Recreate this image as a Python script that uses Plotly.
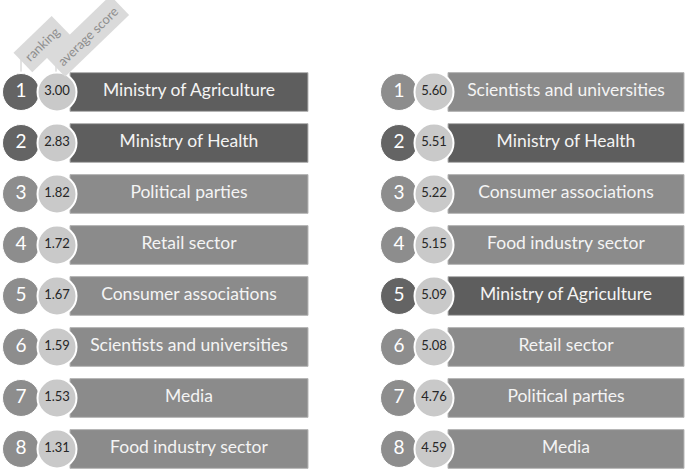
import plotly.graph_objects as go

# ---- data ----
ranks = [1, 2, 3, 4, 5, 6, 7, 8]
left_labels = ["Ministry of Agriculture", "Ministry of Health", "Political parties",
               "Retail sector", "Consumer associations", "Scientists and universities",
               "Media", "Food industry sector"]
left_scores = [3.00, 2.83, 1.82, 1.72, 1.67, 1.59, 1.53, 1.31]
right_labels = ["Scientists and universities", "Ministry of Health", "Consumer associations",
                "Food industry sector", "Ministry of Agriculture", "Retail sector",
                "Political parties", "Media"]
right_scores = [5.60, 5.51, 5.22, 5.15, 5.09, 5.08, 4.76, 4.59]
highlight = ["Ministry of Agriculture", "Ministry of Health"]
header_labels = ["ranking", "average score"]

# ---- style ----
DARK_BAR, MID_BAR = "#5e5e5e", "#8b8b8b"
DARK_CIRC, MID_CIRC = "#646464", "#8d8d8d"
SCORE_CIRC = "#c9c9c9"
FONT = "Lato"

rows = list(range(len(ranks)))

panels = [
    dict(labels=left_labels, scores=left_scores, rank_x=21, score_x=57, bar_start=70, bar_end=308),
    dict(labels=right_labels, scores=right_scores, rank_x=399, score_x=434, bar_start=448, bar_end=684),
]

fig = go.Figure()
for p in panels:
    dark = [lab in highlight for lab in p["labels"]]
    bar_len = p["bar_end"] - p["bar_start"]
    fig.add_trace(go.Bar(
        orientation="h", y=rows, x=[bar_len] * len(rows), base=p["bar_start"], width=0.76,
        marker=dict(color=[DARK_BAR if d else MID_BAR for d in dark],
                    line=dict(color="#b5b5b5", width=1)),
        hoverinfo="skip", showlegend=False))
    centre = (p["bar_start"] + p["bar_end"]) / 2
    fig.add_trace(go.Scatter(
        x=[centre] * len(rows), y=rows, mode="text", text=p["labels"],
        textfont=dict(family=FONT, size=17.5, color="#f4f4f4"), cliponaxis=False,
        hoverinfo="skip", showlegend=False))
    fig.add_trace(go.Scatter(
        x=[p["rank_x"]] * len(rows), y=rows, mode="markers+text",
        text=[str(r) for r in ranks], cliponaxis=False,
        marker=dict(size=37, color=[DARK_CIRC if d else MID_CIRC for d in dark],
                    line=dict(color="white", width=1)),
        textfont=dict(family=FONT, size=19, color="white"),
        hoverinfo="skip", showlegend=False))
    fig.add_trace(go.Scatter(
        x=[p["score_x"]] * len(rows), y=rows, mode="markers+text",
        text=[f"{s:.2f}" for s in p["scores"]], cliponaxis=False,
        marker=dict(size=39, color=SCORE_CIRC, line=dict(color="white", width=2)),
        textfont=dict(family=FONT, size=13, color="#262626"),
        hoverinfo="skip", showlegend=False))

# header labels with leader lines
for lab, lx, ax, ay in [(header_labels[0], 21, 42, -0.94), (header_labels[1], 56, 88, -1.09)]:
    fig.add_shape(type="line", x0=lx, x1=lx, y0=-0.40, y1=-0.66,
                  line=dict(color="#c8c8c8", width=1))
    fig.add_annotation(x=ax, y=ay, text=lab, showarrow=False, textangle=-44,
                       bgcolor="#dadada", borderpad=5,
                       font=dict(family=FONT, size=13, color="#8e8e8e"))

fig.update_xaxes(range=[0, 685], visible=False, fixedrange=True)
fig.update_yaxes(range=[7.471, -1.804], visible=False, fixedrange=True)
fig.update_layout(width=685, height=473, margin=dict(l=0, r=0, t=0, b=0),
                  plot_bgcolor="white", paper_bgcolor="white", barmode="overlay")
# remove the browser's default 8px body margin so the figure fills the window
fig.write_html("out.html", config={"displayModeBar": False},
               post_script="document.body.style.margin='0';")
